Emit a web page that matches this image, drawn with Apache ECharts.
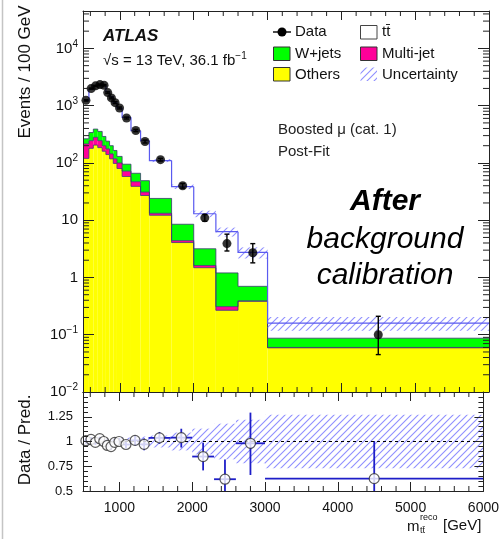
<!DOCTYPE html>
<html>
<head>
<meta charset="utf-8">
<script src="https://cdn.jsdelivr.net/npm/echarts@6/dist/echarts.min.js"></script>
<style>
  html, body { margin: 0; padding: 0; background: #fff; }
  #c { width: 502px; height: 539px; }
</style>
</head>
<body>
<div id="c"></div>
<script>
// Reconstructed m_tt (reco) spectrum, boosted muon channel, category 1, post-fit.
const binEdges = [500, 580, 640, 700, 760, 810, 860, 910, 960, 1030, 1150, 1280, 1400, 1700, 2000, 2300, 2600, 3000, 6000];

// Observed events / 100 GeV and their errors
const dataEvents  = [1240, 1990, 2220, 2335, 2270, 1690, 1365, 1130, 912, 608, 369, 237, 114, 40, 11, 3.9, 2.7, 0.1];
const dataErrUp   = [35, 45, 48, 50, 60, 52, 48, 44, 36, 23, 17, 14, 6, 3.7, 1.5, 1.8, 1.2, 0.11];
const dataErrDown = [35, 45, 48, 50, 60, 52, 48, 44, 36, 23, 17, 14, 6, 3.6, 1.4, 1.0, 0.9, 0.055];

// Stacked predictions (bottom to top: Others, Multi-jet, W+jets, ttbar)
const others   = [120, 180, 205, 185, 160, 140, 118, 98, 80, 58, 39, 27, 12.2, 4.07, 1.48, 0.267, 0.384, 0.059];
const multijet = [95, 65, 75, 60, 40, 36, 26, 20, 20, 14, 8, 4, 1.0, 0.33, 0.14, 0.043, 0.006, 0.001];
const wjets    = [49, 95, 110, 110, 90, 64, 56, 47, 30, 23, 19, 18, 10.8, 4.1, 1.55, 0.89, 0.31, 0.027];
const ttbar    = [966, 1610, 1850, 1915, 1980, 1520, 1240, 975, 782, 532, 299, 195, 86, 30, 9.8, 5.1, 2.05, 0.073];

// Relative uncertainty of the total prediction
const relUncertainty = [0.035, 0.03, 0.03, 0.03, 0.03, 0.03, 0.035, 0.035, 0.04, 0.04, 0.045, 0.05, 0.06, 0.09, 0.13, 0.18, 0.22, 0.27];

// Data / prediction errors in the lower panel
const ratioErrUp   = [0.03, 0.025, 0.025, 0.02, 0.02, 0.025, 0.03, 0.03, 0.035, 0.04, 0.05, 0.06, 0.06, 0.09, 0.14, 0.2, 0.31, 0.38];
const ratioErrDown = [0.03, 0.025, 0.025, 0.02, 0.02, 0.025, 0.03, 0.03, 0.035, 0.04, 0.05, 0.06, 0.06, 0.1, 0.14, 0.3, 0.32, 0.5];

const ratioTickLabels = ['0.5', '0.75', '1', '1.25'];

const X_MIN = 500, X_MAX = 6000;
const Y_MIN = 0.01, Y_MAX = 45000;
const R_MIN = 0.5, R_MAX = 1.5;
const FONT = '"Liberation Sans", Arial, Helvetica, sans-serif';
const C_YELLOW = '#ffff00', C_GREEN = '#00ff00', C_MAGENTA = '#ff0099';
const C_TOTAL = '#5a5af0', C_OUTLINE = '#3a3a70', C_RATIO = '#1e1ec8';

const nBins = binEdges.length - 1;
const lowEdge = binEdges.slice(0, nBins);
const highEdge = binEdges.slice(1);
const centers = lowEdge.map((e, i) => (e + highEdge[i]) / 2);
const top1 = others.slice();
const top2 = top1.map((v, i) => v + multijet[i]);
const top3 = top2.map((v, i) => v + wjets[i]);
const total = top3.map((v, i) => v + ttbar[i]);
const ratio = dataEvents.map((v, i) => v / total[i]);

// Hatched fill used for the uncertainty band
function hatch() {
  const s = 7;
  const c = document.createElement('canvas');
  c.width = s; c.height = s;
  const g = c.getContext('2d');
  g.strokeStyle = 'rgba(115,115,255,0.8)';
  g.lineWidth = 1.1;
  g.beginPath();
  g.moveTo(-1, s + 1); g.lineTo(s + 1, -1);
  g.moveTo(-1, 1); g.lineTo(1, -1);
  g.moveTo(s - 1, s + 1); g.lineTo(s + 1, s - 1);
  g.stroke();
  return { image: c, repeat: 'repeat' };
}
const HATCH = hatch();

function bandRows(lo, hi) {
  return lowEdge.map((e, i) => [e, highEdge[i], lo[i], hi[i]]);
}
function rectRender(fill) {
  return function (params, api) {
    const a = api.coord([api.value(0), api.value(3)]);
    const b = api.coord([api.value(1), api.value(2)]);
    return { type: 'rect', shape: { x: a[0], y: a[1], width: b[0] - a[0], height: b[1] - a[1] }, style: { fill: fill } };
  };
}
function stepRows(level) {
  return lowEdge.map((e, i) => [e, highEdge[i], i === 0 ? level[0] : level[i - 1], level[i]]);
}
function stepRender(color, width) {
  return function (params, api) {
    const p0 = api.coord([api.value(0), api.value(2)]);
    const p1 = api.coord([api.value(0), api.value(3)]);
    const p2 = api.coord([api.value(1), api.value(3)]);
    return { type: 'polyline', shape: { points: [p0, p1, p2] }, style: { stroke: color, lineWidth: width, fill: null } };
  };
}

// Minor ticks
const xMinor = [];
for (let v = 600; v < X_MAX; v += 200) if (v % 1000 !== 0) xMinor.push(v);
const yMinor = [];
for (let n = -2; n <= 4; n++) for (let m = 2; m <= 9; m++) { const v = m * Math.pow(10, n); if (v < Y_MAX) yMinor.push(v); }

function minorTickRender(yLo, yHi) {
  return function (params, api) {
    const kind = api.value(1), v = api.value(0);
    if (kind === 0) {
      const b = api.coord([v, yLo]), t = api.coord([v, yHi]);
      return { type: 'group', children: [
        { type: 'line', shape: { x1: b[0], y1: b[1], x2: b[0], y2: b[1] - 5 }, style: { stroke: '#222', lineWidth: 1 } },
        { type: 'line', shape: { x1: t[0], y1: t[1], x2: t[0], y2: t[1] + 5 }, style: { stroke: '#222', lineWidth: 1 } }
      ] };
    }
    const l = api.coord([X_MIN, v]), r = api.coord([X_MAX, v]);
    return { type: 'group', children: [
      { type: 'line', shape: { x1: l[0], y1: l[1], x2: l[0] + 6, y2: l[1] }, style: { stroke: '#222', lineWidth: 1 } },
      { type: 'line', shape: { x1: r[0], y1: r[1], x2: r[0] - 6, y2: r[1] }, style: { stroke: '#222', lineWidth: 1 } }
    ] };
  };
}

const axisLineStyle = { show: true, lineStyle: { color: '#222', width: 1 } };
function xAxisDef(grid, pos, labels) {
  return {
    type: 'value', gridIndex: grid, position: pos, min: X_MIN, max: X_MAX, splitNumber: 5, z: 10,
    axisLine: axisLineStyle, splitLine: { show: false },
    axisTick: { show: true, inside: true, length: 9, lineStyle: { color: '#222' } },
    axisLabel: labels ? { show: true, showMinLabel: false, margin: 10, fontFamily: FONT, fontSize: 14, color: '#111', formatter: v => String(v) } : { show: false }
  };
}
function logAxisDef(pos, labels) {
  return {
    type: 'log', logBase: 10, gridIndex: 0, position: pos, min: Y_MIN, max: Y_MAX, z: 10,
    axisLine: axisLineStyle, splitLine: { show: false },
    axisTick: { show: true, inside: true, length: 11, lineStyle: { color: '#222' } },
    axisLabel: labels ? {
      show: true, margin: 5, fontFamily: FONT, fontSize: 15, color: '#111', showMaxLabel: false,
      formatter: function (v) {
        const l = Math.log10(v), e = Math.round(l);
        if (Math.abs(l - e) > 1e-6 || v > 2e4) return '';
        if (e === 0) return '1';
        if (e === 1) return '10';
        return '10{s|' + (e < 0 ? '\u2212' + (-e) : e) + '}';
      },
      rich: { s: { fontSize: 10, fontFamily: FONT, color: '#111', padding: [0, 0, 9, 0] } }
    } : { show: false }
  };
}
function ratioAxisDef(pos, labels) {
  return {
    type: 'value', gridIndex: 1, position: pos, min: R_MIN, max: R_MAX, interval: 0.25, z: 10,
    axisLine: axisLineStyle, splitLine: { show: false },
    axisTick: { show: true, inside: true, length: 9, lineStyle: { color: '#222' } },
    minorTick: { show: true, splitNumber: 5, length: 5, lineStyle: { color: '#222' } },
    axisLabel: labels ? { show: true, margin: 10, fontFamily: FONT, fontSize: 13, color: '#111',
      formatter: v => { const s = String(v); return ratioTickLabels.indexOf(s) >= 0 ? s : ''; } } : { show: false }
  };
}

const textStyle = (size, extra) => Object.assign({ fontFamily: FONT, fontSize: size, fill: '#111' }, extra || {});

const option = {
  animation: false,
  backgroundColor: '#fff',
  grid: [
    { left: 83, right: 13, top: 11, height: 381 },
    { left: 83, right: 13, top: 392, height: 99 }
  ],
  xAxis: [xAxisDef(0, 'bottom', false), xAxisDef(0, 'top', false), xAxisDef(1, 'bottom', true), xAxisDef(1, 'top', false)],
  yAxis: [logAxisDef('left', true), logAxisDef('right', false), ratioAxisDef('left', true), ratioAxisDef('right', false)],
  series: [
    { type: 'custom', name: 'Others', xAxisIndex: 0, yAxisIndex: 0, z: 1, clip: true,
      data: bandRows(others.map(() => Y_MIN), top1), renderItem: rectRender(C_YELLOW) },
    { type: 'custom', name: 'Multi-jet', xAxisIndex: 0, yAxisIndex: 0, z: 1, clip: true,
      data: bandRows(top1, top2), renderItem: rectRender(C_MAGENTA) },
    { type: 'custom', name: 'W+jets', xAxisIndex: 0, yAxisIndex: 0, z: 1, clip: true,
      data: bandRows(top2, top3), renderItem: rectRender(C_GREEN) },
    { type: 'custom', name: 'outline others', xAxisIndex: 0, yAxisIndex: 0, z: 2, clip: true,
      data: stepRows(top1), renderItem: stepRender(C_OUTLINE, 0.8) },
    { type: 'custom', name: 'outline multijet', xAxisIndex: 0, yAxisIndex: 0, z: 2, clip: true,
      data: stepRows(top2), renderItem: stepRender(C_OUTLINE, 0.8) },
    { type: 'custom', name: 'outline wjets', xAxisIndex: 0, yAxisIndex: 0, z: 2, clip: true,
      data: stepRows(top3), renderItem: stepRender(C_OUTLINE, 0.8) },
    { type: 'custom', name: 'Uncertainty', xAxisIndex: 0, yAxisIndex: 0, z: 3, clip: true,
      data: bandRows(total.map((t, i) => t * (1 - relUncertainty[i])), total.map((t, i) => t * (1 + relUncertainty[i]))),
      renderItem: rectRender(HATCH) },
    { type: 'custom', name: 'ttbar', xAxisIndex: 0, yAxisIndex: 0, z: 3, clip: true,
      data: stepRows(total), renderItem: stepRender(C_TOTAL, 1.2) },
    { type: 'custom', name: 'data errors', xAxisIndex: 0, yAxisIndex: 0, z: 4, clip: true,
      data: centers.map((c, i) => [c, dataEvents[i] - dataErrDown[i], dataEvents[i] + dataErrUp[i]]),
      renderItem: function (params, api) {
        const lo = api.coord([api.value(0), api.value(1)]);
        const hi = api.coord([api.value(0), api.value(2)]);
        const st = { stroke: '#000', lineWidth: 1.4 };
        return { type: 'group', children: [
          { type: 'line', shape: { x1: lo[0], y1: lo[1], x2: hi[0], y2: hi[1] }, style: st },
          { type: 'line', shape: { x1: lo[0] - 2.5, y1: lo[1], x2: lo[0] + 2.5, y2: lo[1] }, style: st },
          { type: 'line', shape: { x1: hi[0] - 2.5, y1: hi[1], x2: hi[0] + 2.5, y2: hi[1] }, style: st }
        ] };
      } },
    { type: 'scatter', name: 'Data', xAxisIndex: 0, yAxisIndex: 0, z: 5, symbol: 'circle', symbolSize: 9,
      itemStyle: { color: '#000' }, data: centers.map((c, i) => [c, dataEvents[i]]) },
    { type: 'custom', name: 'minor ticks main', xAxisIndex: 0, yAxisIndex: 0, z: 10, clip: false, silent: true,
      data: xMinor.map(v => [v, 0]).concat(yMinor.map(v => [v, 1])),
      renderItem: minorTickRender(Y_MIN, Y_MAX) },

    // Lower panel
    { type: 'custom', name: 'ratio band', xAxisIndex: 2, yAxisIndex: 2, z: 3, clip: true,
      data: bandRows(relUncertainty.map(u => 1 - u), relUncertainty.map(u => 1 + u)),
      renderItem: rectRender(HATCH),
      markLine: { silent: true, symbol: 'none', label: { show: false }, animation: false,
        lineStyle: { color: '#000', width: 1, type: [3, 3] }, data: [{ yAxis: 1 }] } },
    { type: 'custom', name: 'ratio errors', xAxisIndex: 2, yAxisIndex: 2, z: 4, clip: true,
      data: centers.map((c, i) => [c, ratio[i], ratio[i] - ratioErrDown[i], ratio[i] + ratioErrUp[i], lowEdge[i], highEdge[i]]),
      renderItem: function (params, api) {
        const lo = api.coord([api.value(0), api.value(2)]);
        const hi = api.coord([api.value(0), api.value(3)]);
        const l = api.coord([api.value(4), api.value(1)]);
        const r = api.coord([api.value(5), api.value(1)]);
        const st = { stroke: C_RATIO, lineWidth: 1.8 };
        return { type: 'group', children: [
          { type: 'line', shape: { x1: lo[0], y1: lo[1], x2: hi[0], y2: hi[1] }, style: st },
          { type: 'line', shape: { x1: l[0], y1: l[1], x2: r[0], y2: r[1] }, style: st }
        ] };
      } },
    { type: 'scatter', name: 'ratio', xAxisIndex: 2, yAxisIndex: 2, z: 5, symbol: 'circle', symbolSize: 10,
      itemStyle: { color: '#fff', borderColor: '#333', borderWidth: 1.2 },
      data: centers.map((c, i) => [c, ratio[i]]) },
    { type: 'custom', name: 'minor ticks ratio', xAxisIndex: 2, yAxisIndex: 2, z: 10, clip: false, silent: true,
      data: xMinor.map(v => [v, 0]), renderItem: minorTickRender(R_MIN, R_MAX) }
  ],
  graphic: [
    { type: 'line', shape: { x1: 2.5, y1: 0, x2: 2.5, y2: 539 }, style: { stroke: '#c4c4c4', lineWidth: 1.5 }, silent: true },
    // Axis titles
    { type: 'text', x: 25, y: 72, rotation: Math.PI / 2,
      style: textStyle(17, { text: 'Events / 100 GeV', align: 'center', verticalAlign: 'middle' }) },
    { type: 'text', x: 25, y: 440, rotation: Math.PI / 2,
      style: textStyle(17, { text: 'Data / Pred.', align: 'center', verticalAlign: 'middle' }) },
    { type: 'text', x: 407, y: 527, style: textStyle(15, { text: 'm', verticalAlign: 'middle' }) },
    { type: 'text', x: 420, y: 518, style: textStyle(9, { text: 'reco', verticalAlign: 'middle' }) },
    { type: 'text', x: 420, y: 531, style: textStyle(9, { text: 'tt\u0304', verticalAlign: 'middle' }) },
    { type: 'text', x: 443, y: 526, style: textStyle(15, { text: '[GeV]', verticalAlign: 'middle' }) },
    // Labels
    { type: 'text', x: 103, y: 36, style: textStyle(17, { text: 'ATLAS', fontWeight: 'bold', fontStyle: 'italic', verticalAlign: 'middle' }) },
    { type: 'text', x: 103, y: 61, style: textStyle(15, {
        text: '\u221As = 13 TeV, 36.1 fb{s|\u22121}', verticalAlign: 'middle',
        rich: { s: { fontSize: 10, fontFamily: FONT, fill: '#111', padding: [0, 0, 9, 0] } } }) },
    { type: 'text', x: 278, y: 130, style: textStyle(15, { text: 'Boosted \u03BC (cat. 1)', verticalAlign: 'middle', fill: '#222' }) },
    { type: 'text', x: 278, y: 152, style: textStyle(15, { text: 'Post-Fit', verticalAlign: 'middle', fill: '#222' }) },
    { type: 'text', x: 385, y: 202, style: textStyle(30, { text: 'After', fontWeight: 'bold', fontStyle: 'italic', align: 'center', verticalAlign: 'middle', fill: '#000' }) },
    { type: 'text', x: 385, y: 240, style: textStyle(30, { text: 'background', fontStyle: 'italic', align: 'center', verticalAlign: 'middle', fill: '#000' }) },
    { type: 'text', x: 385, y: 276, style: textStyle(30, { text: 'calibration', fontStyle: 'italic', align: 'center', verticalAlign: 'middle', fill: '#000' }) },
    // Legend
    { type: 'line', shape: { x1: 273, y1: 32, x2: 291, y2: 32 }, style: { stroke: '#000', lineWidth: 1.4 } },
    { type: 'circle', shape: { cx: 282, cy: 32, r: 4.5 }, style: { fill: '#000' } },
    { type: 'rect', shape: { x: 273.5, y: 47, width: 16.5, height: 13.5 }, style: { fill: C_GREEN, stroke: '#333', lineWidth: 1 } },
    { type: 'rect', shape: { x: 273.5, y: 67.5, width: 16.5, height: 13.5 }, style: { fill: C_YELLOW, stroke: '#333', lineWidth: 1 } },
    { type: 'rect', shape: { x: 360.5, y: 25.5, width: 16.5, height: 13.5 }, style: { fill: '#fff', stroke: '#444', lineWidth: 1 } },
    { type: 'rect', shape: { x: 360.5, y: 47, width: 16.5, height: 13.5 }, style: { fill: C_MAGENTA, stroke: '#333', lineWidth: 1 } },
    { type: 'rect', shape: { x: 360.5, y: 67.5, width: 16.5, height: 13.5 }, style: { fill: HATCH } },
    { type: 'text', x: 295, y: 32, style: textStyle(15, { text: 'Data', verticalAlign: 'middle' }) },
    { type: 'text', x: 295, y: 53.5, style: textStyle(15, { text: 'W+jets', verticalAlign: 'middle' }) },
    { type: 'text', x: 295, y: 74.5, style: textStyle(15, { text: 'Others', verticalAlign: 'middle' }) },
    { type: 'text', x: 382, y: 32, style: textStyle(15, { text: 'tt\u0304', verticalAlign: 'middle' }) },
    { type: 'text', x: 382, y: 53.5, style: textStyle(15, { text: 'Multi-jet', verticalAlign: 'middle' }) },
    { type: 'text', x: 382, y: 74.5, style: textStyle(15, { text: 'Uncertainty', verticalAlign: 'middle' }) }
  ]
};

const chart = echarts.init(document.getElementById('c'), null, { renderer: 'canvas', width: 502, height: 539 });
chart.setOption(option);
</script>
</body>
</html>
